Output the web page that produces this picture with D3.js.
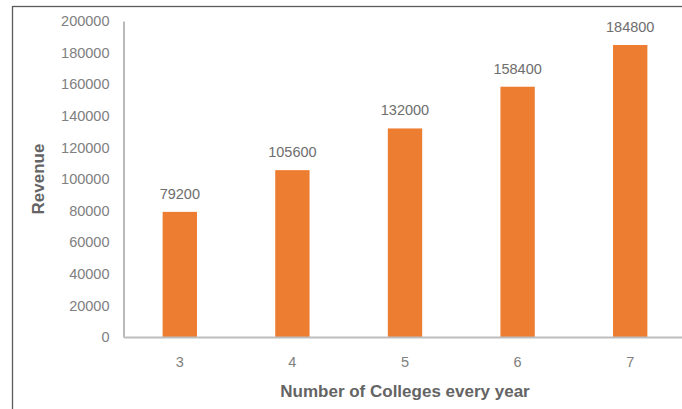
<!DOCTYPE html>
<html><head><meta charset="utf-8">
<script src="https://cdn.jsdelivr.net/npm/d3@7"></script>
<style>
html,body{margin:0;padding:0;background:#fff;}
svg{display:block;}
text{font-family:"Liberation Sans",Arial,sans-serif;}
</style></head>
<body>
<svg id="chart" width="682" height="409"></svg>
<script>
const categories = ["3","4","5","6","7"];
const revenue = [79200,105600,132000,158400,184800];
const yTicks = [0,20000,40000,60000,80000,100000,120000,140000,160000,180000,200000];
const xTitle = "Number of Colleges every year";
const yTitle = "Revenue";

const svg = d3.select("#chart");
const mLeft = 123.5, mRight = 686.5, mTop = 21, mBottom = 337;

svg.append("rect").attr("x",12.5).attr("y",6.5).attr("width",700).attr("height",430)
  .attr("fill","#fff").attr("stroke","#5a5a5a").attr("stroke-width",1.3);

const x = d3.scaleBand().domain(categories).range([mLeft,mRight]).paddingInner(0.695).paddingOuter(0.3475);
const y = d3.scaleLinear().domain([0,200000]).range([mBottom,mTop]);

// y tick labels
const yAxis = d3.axisLeft(y).tickValues(yTicks).tickSize(0).tickPadding(14).tickFormat(d3.format("d"));
const gy = svg.append("g").attr("transform",`translate(${mLeft},0)`).call(yAxis);
gy.select(".domain").attr("stroke","#8c8c8c").attr("stroke-width",1.2);
gy.selectAll("text").attr("fill","#808080").attr("font-size",14.5).attr("font-family","Liberation Sans, Arial, sans-serif");

// bars
svg.append("g").selectAll("rect").data(revenue).join("rect")
  .attr("x",(d,i)=>x(categories[i])).attr("width",x.bandwidth())
  .attr("y",d=>y(d)).attr("height",d=>y(0)-y(d)).attr("fill","#ED7D31");

// x axis
const xAxis = d3.axisBottom(x).tickSize(0).tickPadding(20);
const gx = svg.append("g").attr("transform",`translate(0,${mBottom})`).call(xAxis);
gx.select(".domain").attr("stroke","#bdbdbd").attr("stroke-width",2);
gx.selectAll("text").attr("fill","#808080").attr("font-size",14.5).attr("font-family","Liberation Sans, Arial, sans-serif");

// value labels
svg.append("g").selectAll("text").data(revenue).join("text")
  .attr("x",(d,i)=>x(categories[i])+x.bandwidth()/2).attr("y",d=>y(d)-13)
  .attr("text-anchor","middle").attr("fill","#6e6e6e").attr("font-size",14.5)
  .text(d=>d);

// axis titles
svg.append("text").attr("x",405).attr("y",397).attr("text-anchor","middle")
  .attr("font-weight","bold").attr("font-size",17).attr("fill","#646464").text(xTitle);
svg.append("text").attr("transform",`translate(44,${(mTop+mBottom)/2}) rotate(-90)`)
  .attr("text-anchor","middle").attr("font-weight","bold").attr("font-size",17).attr("fill","#646464").text(yTitle);
</script>
</body></html>
